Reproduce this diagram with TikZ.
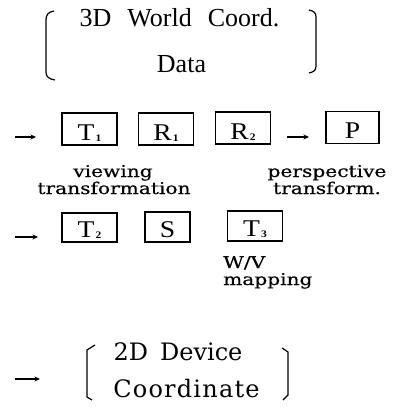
\documentclass[tikz,border=0pt]{standalone}
\usepackage{fontspec}
\setmainfont{Liberation Serif}
\newfontfamily\lblfont{DejaVu Serif}[FakeBold=0.5]
\newfontfamily\widefont{DejaVu Serif}
\usetikzlibrary{arrows.meta}

% subscript digit inside a transformation box
\newcommand{\subd}[1]{\kern1pt\raisebox{-1pt}{\fontsize{10}{10}\selectfont\bfseries #1}}
% box caption, set a little wider than the font
\newcommand{\boxtxt}[1]{\scalebox{1.15}[1]{#1}}
% slab-serif side note, wide and low
\newcommand{\note}[1]{\scalebox{1.12}[0.9]{#1}}

\begin{document}
\begin{tikzpicture}[x=1pt,y=-1pt,
  box/.style={draw, line width=1.3pt, minimum width=55pt, minimum height=32pt,
              inner sep=0pt, text height=22pt, text depth=0pt,
              font=\fontsize{24}{24}\selectfont},
  big/.style={font=\fontsize{26}{26}\selectfont, inner sep=0pt, anchor=base},
  wide/.style={font=\widefont\fontsize{24}{24}\selectfont, inner sep=0pt, anchor=base},
  lbl/.style={font=\lblfont\fontsize{18}{18}\selectfont, inner sep=0pt, anchor=base},
  brk/.style={line width=1.2pt},
  flow/.style={line width=1.1pt, -{Stealth[length=5.5pt,width=5pt]}}
]
\useasboundingbox (0,0) rectangle (397,412);

% input data
\node[big] (in1) at (179.5,27) {3D\hspace{16pt}World\hspace{16pt}Coord.};
\node[big] (in2) at (181.5,72) {Data};
\draw[brk] (54,11) .. controls (48,12) and (46,15) .. (46,20) -- (46,72)
           .. controls (46,77) and (49,79) .. (55,80);
\draw[brk] (309,10) .. controls (314,11) and (316,13) .. (316,17) -- (316,66)
           .. controls (316,70) and (314,72) .. (309,73);

% first row of transformations
\node[box] (t1) at (89.5,129) {\boxtxt{T\subd{1}}};
\node[box] (r1) at (166,129) {\boxtxt{R\subd{1}}};
\node[box] (r2) at (243,128) {\boxtxt{R\subd{2}}};
\node[box, minimum width=53pt] (p)  at (352.5,127.5) {\boxtxt{P}};
\coordinate (a1s) at (15,137);
\coordinate (a1e) at (36,137);
\coordinate (a2s) at (287,137);
\coordinate (a2e) at (309,137);
\draw[flow] (a1s) -- (a1e);
\draw[flow] (a2s) -- (a2e);
\node[lbl] (v1) at (113,177) {\note{viewing}};
\node[lbl] (v2) at (114,194) {\note{transformation}};
\node[lbl] (p1) at (327,177) {\note{perspective}};
\node[lbl] (p2) at (327,194) {\note{transform.}};

% second row of transformations
\node[box, minimum height=29pt, text height=20pt] (t2) at (89.5,227.5) {\boxtxt{T\subd{2}}};
\node[box, minimum width=45pt, minimum height=30pt, text height=20pt] (s) at (167.5,227) {\boxtxt{S}};
\node[box, minimum height=30pt, text height=20pt] (t3) at (255,226) {\boxtxt{T\subd{3}}};
\coordinate (a3s) at (15,237);
\coordinate (a3e) at (38,237);
\draw[flow] (a3s) -- (a3e);
\node[lbl, anchor=base west] (w1) at (223,268) {\note{W/V}};
\node[lbl, anchor=base west] (w2) at (223,285) {\note{mapping}};

% output coordinates
\node[wide] (out1) at (178,360) {2D\hspace{12pt}Device};
\node[wide] (out2) at (186.5,397) {\addfontfeature{LetterSpace=5}Coordinate};
\draw[brk] (95,345) -- (87,350) -- (87,397) -- (92,400);
\draw[brk] (282,348) -- (288,352) -- (288,395) -- (283,400);
\coordinate (a4s) at (15,379);
\coordinate (a4e) at (40,379);
\draw[flow] (a4s) -- (a4e);
\end{tikzpicture}
\end{document}
